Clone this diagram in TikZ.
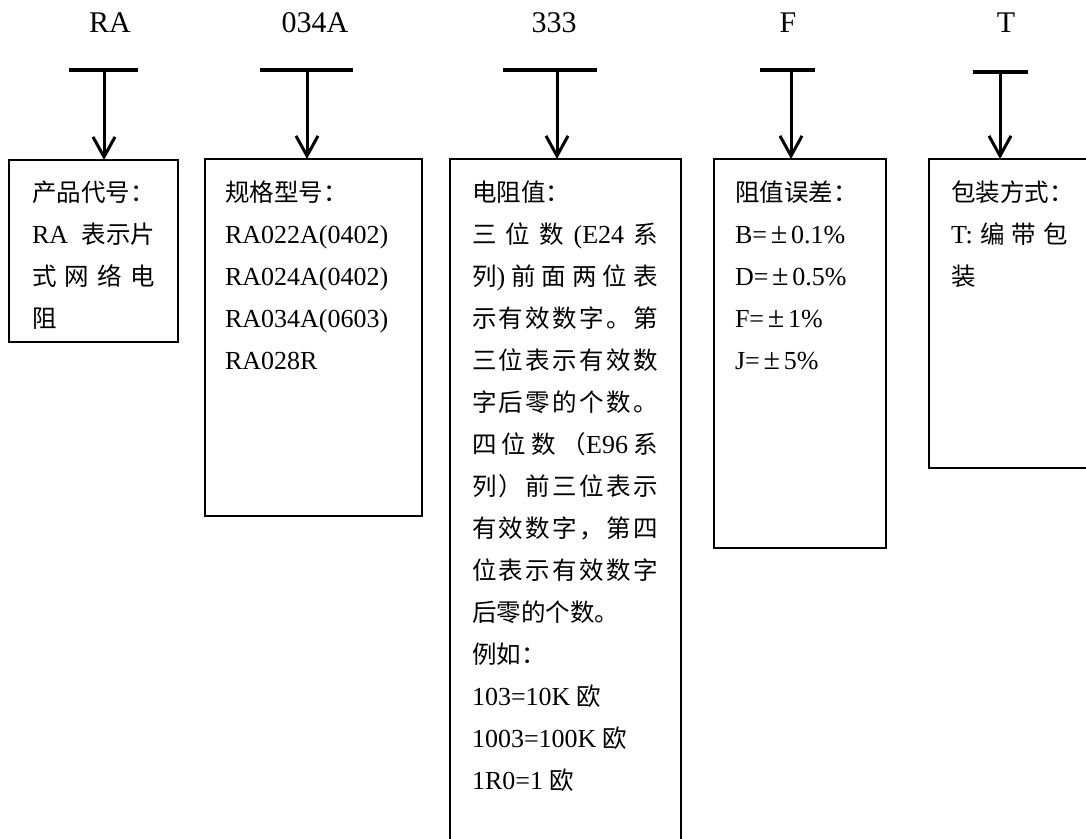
\documentclass[tikz,border=0pt]{standalone}
\usepackage{fontspec}
\setmainfont{Liberation Serif}
\newfontfamily\cjk{Noto Sans CJK SC}
\usetikzlibrary{arrows.meta}
\newcommand\gp{\hfill}
\newcommand\C[1]{{\fontsize{24.5}{42}\cjk #1}}
\newcommand\J[1]{\hbox to \linewidth{#1}}
\newcommand\pmbox{\makebox[24pt]{\fontsize{30}{42}\selectfont ±}}
\begin{document}
\begin{tikzpicture}[x=1pt,y=-1pt,
  lab/.style={anchor=base,inner sep=0pt,font=\fontsize{30}{36}\selectfont},
  bar/.style={line width=4pt},
  stem/.style={line width=3pt,-{Straight Barb[length=20pt,width=22pt,line width=3pt]}},
  box/.style={draw,line width=1.6pt,anchor=north west,inner sep=0pt,outer sep=0pt},
  txt/.style={anchor=base west,inner sep=0pt,outer sep=0pt,font=\fontsize{26}{42}\selectfont}]
\useasboundingbox (0,0) rectangle (1086,838);
% labels
\node[lab] (L1) at (110,32) {RA};
\node[lab] (L2) at (315,32) {034A};
\node[lab] (L3) at (554,32) {333};
\node[lab] (L4) at (788,32) {F};
\node[lab] (L5) at (1006,32) {T};
% bars
\coordinate (a1) at (69,70);  \coordinate (z1) at (138,70);  \coordinate (c1) at (104,70);
\coordinate (a2) at (260,70); \coordinate (z2) at (353,70);  \coordinate (c2) at (307,70);
\coordinate (a3) at (503,70); \coordinate (z3) at (597,70);  \coordinate (c3) at (557,70);
\coordinate (a4) at (760,70); \coordinate (z4) at (815,70);  \coordinate (c4) at (791,70);
\coordinate (a5) at (973,72); \coordinate (z5) at (1028,72); \coordinate (c5) at (1000,72);
\foreach \i in {1,...,5} {\draw[bar] (a\i) -- (z\i);}
% boxes
\node[box,minimum width=169pt,minimum height=182pt] (b1) at (9,160) {};
\node[box,minimum width=217pt,minimum height=357pt] (b2) at (205,159) {};
\node[box,minimum width=231pt,minimum height=720pt] (b3) at (450,159) {};
\node[box,minimum width=172pt,minimum height=389pt] (b4) at (714,159) {};
\node[box,minimum width=180pt,minimum height=309pt] (b5) at (929,159) {};
% arrows
\foreach \i in {1,...,5} {\draw[stem] (c\i) -- (c\i |- b\i.north);}
% texts
\node[txt] (t1) at (32,201) {\parbox[t]{123pt}{\fontsize{26}{42}\selectfont
\C{产品代号：}\\
\J{RA\gp\C{表}\C{示}\C{片}}\\
\J{\C{式}\gp\C{网}\gp\C{络}\gp\C{电}}\\
\C{阻}}};
\node[txt] (t2) at (225,201) {\parbox[t]{190pt}{\fontsize{26}{42}\selectfont
\C{规格型号：}\\
RA022A(0402)\\
RA024A(0402)\\
RA034A(0603)\\
RA028R}};
\node[txt] (t3) at (472,201) {\parbox[t]{186pt}{\fontsize{26}{42}\selectfont
\C{电阻值：}\\
\J{\C{三}\gp\C{位}\gp\C{数}\gp(E24\gp\C{系}}\\
\J{\C{列})\gp\C{前}\gp\C{面}\gp\C{两}\gp\C{位}\gp\C{表}}\\
\J{\C{示}\gp\C{有}\gp\C{效}\gp\C{数}\gp\C{字}\gp\C{。}\gp\C{第}}\\
\J{\C{三}\gp\C{位}\gp\C{表}\gp\C{示}\gp\C{有}\gp\C{效}\gp\C{数}}\\
\J{\C{字}\gp\C{后}\gp\C{零}\gp\C{的}\gp\C{个}\gp\C{数}\gp\C{。}}\\
\J{\C{四}\gp\C{位}\gp\C{数}\gp\C{（}E96\gp\C{系}}\\
\J{\C{列}\gp\C{）}\gp\C{前}\gp\C{三}\gp\C{位}\gp\C{表}\gp\C{示}}\\
\J{\C{有}\gp\C{效}\gp\C{数}\gp\C{字}\gp\C{，}\gp\C{第}\gp\C{四}}\\
\J{\C{位}\gp\C{表}\gp\C{示}\gp\C{有}\gp\C{效}\gp\C{数}\gp\C{字}}\\
\C{后零的个数。}\\
\C{例如：}\\
103=10K \C{欧}\\
1003=100K \C{欧}\\
1R0=1 \C{欧}}};
\node[txt] (t4) at (735,201) {\parbox[t]{140pt}{\fontsize{26}{42}\selectfont
\C{阻值误差：}\\
B=\pmbox 0.1\%\\
D=\pmbox 0.5\%\\
F=\pmbox 1\%\\
J=\pmbox 5\%}};
\node[txt] (t5) at (951,201) {\parbox[t]{117pt}{\fontsize{26}{42}\selectfont
\C{包装方式：}\\
\J{T:\gp\C{编}\gp\C{带}\gp\C{包}}\\
\C{装}}};
\end{tikzpicture}
\end{document}
